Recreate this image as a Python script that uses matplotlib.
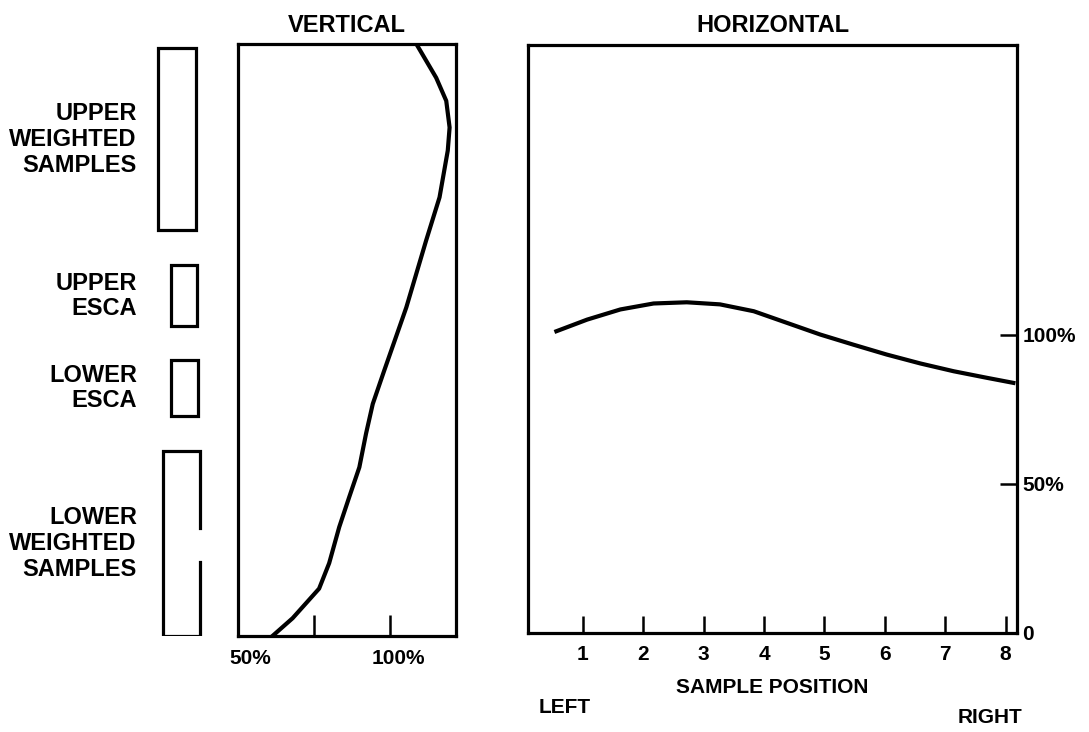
import matplotlib
matplotlib.use('Agg')
import matplotlib.pyplot as plt
from matplotlib.patches import Rectangle

plt.rcParams['font.family'] = ['Liberation Sans', 'DejaVu Sans']
plt.rcParams['font.weight'] = 'bold'

# vertical profile: percent of mean vs relative height in the column (0 bottom, 100 top)
vert_pct = [61.3, 67.9, 76.6, 79.9, 83.2, 86.5, 89.8, 92.0, 94.2, 98.0, 105.2, 111.7, 116.1, 118.8, 119.4, 118.3, 115.0, 108.5]
vert_height = [0, 3.0, 8.0, 12.3, 18.4, 23.5, 28.5, 34.2, 39.2, 44.9, 55.5, 66.8, 74.1, 82.0, 85.9, 90.4, 94.3, 100]

# horizontal profile: percent of mean vs sample position
horiz_pos = [0.56, 1.07, 1.62, 2.17, 2.72, 3.27, 3.83, 4.38, 4.93, 5.48, 6.03, 6.59, 7.14, 7.69, 8.13]
horiz_pct = [101.1, 105.0, 108.4, 110.4, 110.8, 110.1, 107.8, 103.9, 100.0, 96.6, 93.3, 90.3, 87.7, 85.5, 83.8]
positions = [1, 2, 3, 4, 5, 6, 7, 8]

# sample zones along the column height
zone_names = ['UPPER\nWEIGHTED\nSAMPLES', 'UPPER\nESCA', 'LOWER\nESCA', 'LOWER\nWEIGHTED\nSAMPLES']
zone_bottom = [68.5, 52.3, 37.1, 0]
zone_top = [99.3, 62.6, 46.7, 31.2]
zone_x0 = [0.13, 0.35, 0.35, 0.22]
zone_x1 = [0.77, 0.78, 0.80, 0.83]
gap_lo, gap_hi = 12.5, 18.2  # break in the lower weighted box

W, H = 1089, 732
fig = plt.figure(figsize=(W / 100, H / 100), dpi=100)

lw_box = 2.3
lw_curve = 3.0
fs = 17
fs_tick = 15

# ---- zone strip ----
axz = fig.add_axes([150 / W, (H - 636) / H, 60 / W, 592 / H])
axz.set_xlim(0, 1)
axz.set_ylim(0, 100)
axz.axis('off')
for i, name in enumerate(zone_names):
    x0, x1, b, t = zone_x0[i], zone_x1[i], zone_bottom[i], zone_top[i]
    if i == 3:
        axz.plot([x1, x1, x0, x0, x1, x1], [gap_lo, b, b, t, t, gap_hi], color='k', lw=lw_box, solid_joinstyle='miter')
    else:
        axz.add_patch(Rectangle((x0, b), x1 - x0, t - b, fill=False, ec='k', lw=lw_box))
    axz.text(-0.22, (b + t) / 2, name, ha='right', va='center', fontsize=fs,
             fontweight='bold', linespacing=1.15, multialignment='right')

# ---- vertical panel ----
axv = fig.add_axes([238 / W, (H - 636) / H, 218 / W, 592 / H])
axv.plot(vert_pct, vert_height, color='k', lw=lw_curve)
axv.set_xlim(50, 121.5)
axv.set_ylim(0, 100)
axv.set_yticks([])
axv.set_xticks([75, 100])
axv.set_xticklabels([])
axv.tick_params(axis='x', direction='in', length=15, width=1.8)
for s in axv.spines.values():
    s.set_linewidth(lw_box)
axv.text(0.055, -0.022, '50%', transform=axv.transAxes, ha='center', va='top', fontsize=fs_tick)
axv.text(102.5, -2.2, '100%', ha='center', va='top', fontsize=fs_tick)
axv.set_title('VERTICAL', fontsize=fs, fontweight='bold', pad=9)

# ---- horizontal panel ----
axh = fig.add_axes([528 / W, (H - 633) / H, 489 / W, 588 / H])
axh.plot(horiz_pos, horiz_pct, color='k', lw=lw_curve)
axh.set_xlim(0.09, 8.19)
axh.set_ylim(0, 197)
axh.set_xticks(positions)
axh.set_xticklabels([str(p) for p in positions], fontsize=fs_tick)
axh.tick_params(axis='x', direction='in', length=12, width=1.8, pad=9)
axh.yaxis.tick_right()
axh.set_yticks([0, 50, 100])
axh.set_yticklabels(['0', '50%', '100%'], fontsize=fs_tick)
axh.tick_params(axis='y', direction='in', length=12, width=1.8, pad=4)
for s in axh.spines.values():
    s.set_linewidth(lw_box)
axh.set_title('HORIZONTAL', fontsize=fs, fontweight='bold', pad=9)
axh.set_xlabel('SAMPLE POSITION', fontsize=fs_tick, fontweight='bold', labelpad=10)
axh.text(0.075, -0.127, 'LEFT', transform=axh.transAxes, ha='center', va='center', fontsize=fs_tick)
axh.text(0.945, -0.143, 'RIGHT', transform=axh.transAxes, ha='center', va='center', fontsize=fs_tick)

fig.savefig('out.png', dpi=100)
